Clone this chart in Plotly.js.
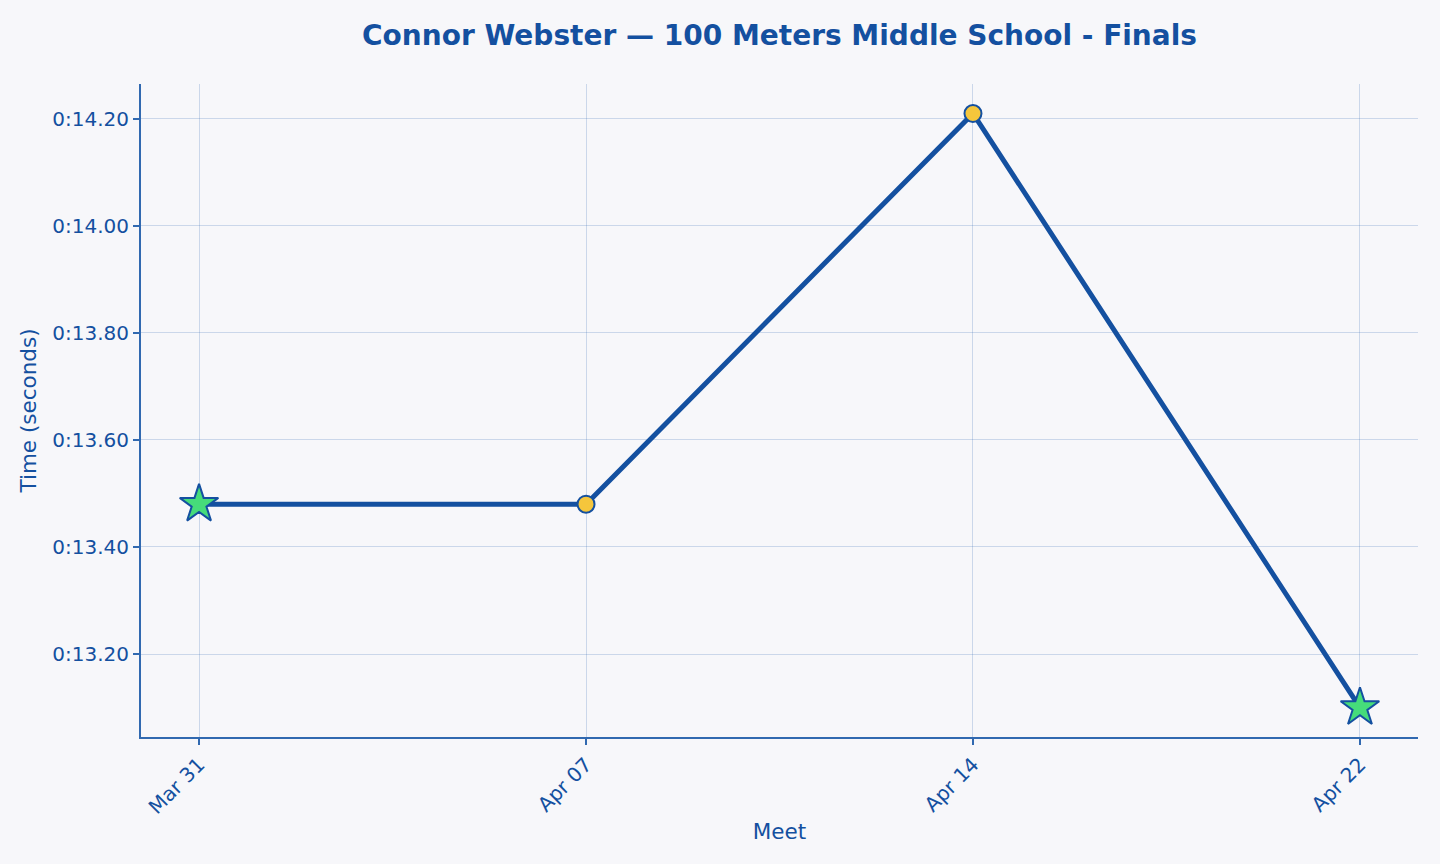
<!DOCTYPE html>
<html>
<head>
<meta charset="utf-8">
<script src="https://cdn.plot.ly/plotly-3.0.1.min.js"></script>
<style>
  html, body { margin: 0; padding: 0; background: #f7f7fa; }
  #chart { width: 1440px; height: 864px; }
</style>
</head>
<body>
<div id="chart"></div>
<script>
const meets = ["Mar 31", "Apr 07", "Apr 14", "Apr 22"];
const times = [13.48, 13.48, 14.21, 13.10];
const isPR = [true, false, false, true];
const yTickVals = [13.2, 13.4, 13.6, 13.8, 14.0, 14.2];
const yTickText = ["0:13.20", "0:13.40", "0:13.60", "0:13.80", "0:14.00", "0:14.20"];

const BLUE = "#1450a0";
const SPINE = "#3169b0";
const GRID = "rgba(49,105,176,0.22)";
const FONT = "DejaVu Sans, sans-serif";

const line = {
  type: "scatter",
  mode: "lines",
  x: meets,
  y: times,
  line: { color: BLUE, width: 5 },
  hoverinfo: "skip",
  showlegend: false,
};

const regular = {
  type: "scatter",
  mode: "markers",
  x: meets.filter((m, i) => !isPR[i]),
  y: times.filter((t, i) => !isPR[i]),
  marker: { color: "#f5c63c", size: 17, symbol: "circle", line: { color: BLUE, width: 2 } },
  showlegend: false,
};

const prs = {
  type: "scatter",
  mode: "markers",
  x: meets.filter((m, i) => isPR[i]),
  y: times.filter((t, i) => isPR[i]),
  marker: { color: "#46dc7a", size: 29, symbol: "star", line: { color: BLUE, width: 2 } },
  showlegend: false,
};

const layout = {
  width: 1440,
  height: 864,
  paper_bgcolor: "#f7f7fa",
  plot_bgcolor: "#f7f7fa",
  font: { family: FONT, color: BLUE, size: 20 },
  margin: { l: 141, r: 22, t: 84, b: 127 },
  title: {
    text: "<b>Connor Webster — 100 Meters Middle School - Finals</b>",
    font: { family: FONT, size: 28, color: BLUE },
    x: 0.5,
    xref: "paper",
    xanchor: "center",
    y: 1 - 35 / 864,
    yanchor: "middle",
  },
  xaxis: {
    type: "category",
    range: [-0.15, 3.15],
    title: { text: "Meet", font: { size: 21.5 }, standoff: 6 },
    tickangle: -45,
    ticks: "outside",
    ticklen: 6,
    tickwidth: 2,
    tickcolor: SPINE,
    tickfont: { size: 20 },
    showline: true,
    linecolor: SPINE,
    linewidth: 2,
    showgrid: true,
    gridcolor: GRID,
    gridwidth: 1,
    zeroline: false,
  },
  yaxis: {
    range: [13.045, 14.265],
    tickvals: yTickVals,
    ticktext: yTickText,
    title: { text: "Time (seconds)", font: { size: 21.5 }, standoff: 10 },
    ticks: "outside",
    ticklen: 6,
    tickwidth: 2,
    tickcolor: SPINE,
    tickfont: { size: 20 },
    showline: true,
    linecolor: SPINE,
    linewidth: 2,
    showgrid: true,
    gridcolor: GRID,
    gridwidth: 1,
    zeroline: false,
  },
  hovermode: false,
};

Plotly.newPlot("chart", [line, regular, prs], layout, { displayModeBar: false, staticPlot: true });
</script>
</body>
</html>
